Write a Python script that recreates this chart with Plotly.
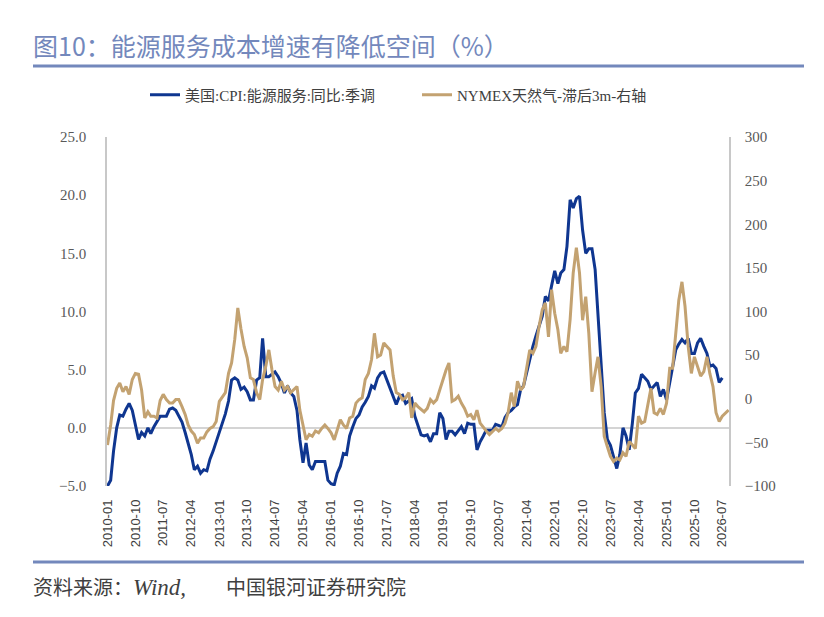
import pandas as pd
import plotly.graph_objects as go

# ---------------- data ----------------
start_month = "2010-01-01"

cpi_energy_services = [
    -5.0, -4.5, -2.0, 0.0, 1.1, 1.0, 1.6, 2.1, 1.5, 0.4,
    -1.0, -0.4, -0.7, 0.0, -0.5, 0.1, 0.6, 1.0, 1.0, 1.0,
    1.6, 1.7, 1.5, 1.0, 0.5, -0.4, -1.3, -2.3, -3.6, -3.3,
    -3.9, -3.6, -3.7, -2.7, -2.0, -1.2, -0.5, 0.5, 1.2, 2.3,
    4.1, 4.3, 4.1, 3.3, 3.5, 3.1, 2.4, 2.4, 4.1, 4.3,
    7.7, 4.4, 4.4, 4.6, 4.8, 4.4, 3.8, 3.0, 3.6, 3.0,
    2.7, 1.5, -1.0, -3.0, -1.3, -3.2, -3.6, -2.9, -2.9, -2.9,
    -2.9, -4.5, -4.8, -4.9, -3.9, -3.3, -2.2, -2.3, -0.7, 0.1,
    0.8, 1.1, 1.8, 2.2, 2.7, 3.6, 3.4, 4.3, 4.7, 4.8,
    4.1, 3.4, 2.6, 2.0, 2.7, 2.8, 2.1, 2.3, 2.5, 1.0,
    0.1, -0.6, -0.7, -0.6, -1.2, -0.5, -0.5, 1.3, 0.8, -1.0,
    -0.3, -0.3, -0.6, -0.2, 0.1, -0.5, 0.4, 0.3, 0.3, -1.9,
    -1.2, -0.7, -0.2, -0.2, -0.2, 0.3, 0.2, 0.1, 0.9, 1.3,
    1.5, 1.8, 2.0, 3.3, 3.6, 4.8, 6.0, 7.0, 7.9, 8.7,
    9.6, 11.3, 10.9, 12.2, 13.5, 12.4, 13.3, 13.6, 15.6, 19.6,
    18.9, 19.7, 19.9, 17.0, 15.0, 15.4, 15.4, 13.6, 9.9, 5.8,
    1.3, -1.0, -1.5, -2.5, -3.5, -2.3, 0.0, -0.7, -1.9, 0.4,
    3.0, 3.4, 4.6, 4.3, 4.0, 3.3, 3.6, 3.9, 2.7, 3.3,
    2.4, 3.9, 5.3, 6.7, 7.2, 7.6, 7.3, 7.7, 6.4, 6.4,
    7.3, 7.7, 7.0, 6.4, 5.3, 5.4, 5.1, 3.9, 4.3,
]

nymex_gas_lag3m = [
    -53, -30, -2, 12, 18, 8, 14, 5, 22, 29,
    28, 10, -22, -15, -20, -20, -22, -2, 5, -1,
    -5, -5, -1, -1, -9, -18, -30, -37, -41, -51,
    -45, -45, -38, -34, -32, -26, -3, 3, 7, 29,
    41, 68, 104, 80, 60, 47, 24, 22, 7, -1,
    22, 37, 56, 33, 14, 10, 20, 10, 14, 7,
    10, 14, -13, -32, -47, -41, -43, -37, -39, -34,
    -30, -34, -39, -47, -37, -24, -30, -34, -22, -20,
    -5, -1, 1, 22, 29, 45, 75, 48, 50, 64,
    60, 56, 26, 7, 5, -1, 1, 7, -22, -5,
    -9, -12, -15, -11, -1, -5, -1, 10, 22, 33,
    41, -3, -1, 3, -5, -11, -20, -18, -24, -13,
    -28, -33, -37, -41, -37, -34, -37, -34, -28, -16,
    7, -9, 20, 10, 14, 37, 56, 52, 60, 83,
    102, 110, 71, 125, 98, 79, 52, 60, 54, 91,
    144, 173, 144, 90, 117, 75, 8, 30, 48, 14,
    -43, -55, -66, -72, -68, -70, -62, -66, -49, -53,
    -57, -20, -28, -26, -9, 12, -16, -18, -11, -18,
    -5, 35, 35, 79, 113, 134, 106, 60, 29, 48,
    37, 26, 31, 48, 29, 14, -16, -26, -20, -16,
    -13,
]

tick_labels = [
    "2010-01", "2010-10", "2011-07", "2012-04", "2013-01", "2013-10",
    "2014-07", "2015-04", "2016-01", "2016-10", "2017-07", "2018-04",
    "2019-01", "2019-10", "2020-07", "2021-04", "2022-01", "2022-10",
    "2023-07", "2024-04", "2025-01", "2025-10", "2026-07",
]

series_names = ["美国:CPI:能源服务:同比:季调", "NYMEX天然气-滞后3m-右轴"]
title_text = "图10：能源服务成本增速有降低空间（%）"
source_text = ("资料来源：<i><span style='font-size:23px'>Wind,</span></i>"
               "\u3000\u3000中国银河证券研究院")

# ---------------- styling ----------------
BLUE = "#0F3690"
GOLD = "#C3A271"
TITLE_BLUE = "#7388BC"
AXIS_GRAY = "#C8C8C8"
TEXT_GRAY = "#595959"
SERIF = "Liberation Serif, Noto Sans CJK SC, serif"
SANS = "Liberation Sans, Arial, sans-serif"
CJK = "Noto Sans CJK SC, sans-serif"

x_cpi = pd.date_range(start_month, periods=len(cpi_energy_services), freq="MS")
x_gas = pd.date_range(start_month, periods=len(nymex_gas_lag3m), freq="MS")

fig = go.Figure()
fig.add_trace(go.Scatter(
    x=x_cpi, y=cpi_energy_services, name=series_names[0], mode="lines",
    line=dict(color=BLUE, width=3), yaxis="y",
))
fig.add_trace(go.Scatter(
    x=x_gas, y=nymex_gas_lag3m, name=series_names[1], mode="lines",
    line=dict(color=GOLD, width=3), yaxis="y2",
))

W, H = 824, 617
L, R, T, B = 107, 729, 137, 486  # plot area pixel box
pw, ph = R - L, B - T


def px_x(x):
    return (x - L) / pw


def px_y(y):
    return (B - y) / ph


fig.update_layout(
    width=W, height=H,
    margin=dict(l=L, r=W - R, t=T, b=H - B, pad=0),
    paper_bgcolor="white", plot_bgcolor="white",
    showlegend=True,
    legend=dict(
        orientation="h", x=px_x(145), xanchor="left", y=px_y(95), yanchor="middle",
        font=dict(family=SERIF, size=15, color="#404040"),
        itemwidth=30, tracegroupgap=0, bgcolor="rgba(0,0,0,0)",
        entrywidth=227, entrywidthmode="pixels",
    ),
    xaxis=dict(
        type="date",
        range=["2009-12-27", "2026-09-05"],
        tickmode="array",
        tickvals=[pd.Timestamp(t + "-01") for t in tick_labels],
        ticktext=tick_labels,
        tickangle=-90,
        tickfont=dict(family=SANS, size=13, color="#404040"),
        showgrid=False, zeroline=False, showline=False,
        ticks="", ticklabelstandoff=10,
    ),
    yaxis=dict(
        range=[-5, 25], dtick=5, tickformat=".1f",
        tickfont=dict(family=SERIF, size=15, color=TEXT_GRAY),
        showgrid=False, zeroline=True, zerolinecolor="#D4D4D4", zerolinewidth=1.5,
        showline=True, linecolor=AXIS_GRAY, linewidth=1.5,
        ticks="", ticklabelstandoff=16,
    ),
    yaxis2=dict(
        range=[-100, 300], dtick=50, tickformat="d",
        overlaying="y", side="right",
        tickfont=dict(family=SERIF, size=15, color=TEXT_GRAY),
        showgrid=False, zeroline=False,
        showline=True, linecolor=AXIS_GRAY, linewidth=1.5,
        ticks="", ticklabelstandoff=11,
    ),
    shapes=[
        dict(type="line", xref="paper", yref="paper",
             x0=px_x(33), x1=px_x(804), y0=px_y(66), y1=px_y(66),
             line=dict(color=TITLE_BLUE, width=3)),
        dict(type="line", xref="paper", yref="paper",
             x0=px_x(33), x1=px_x(804), y0=px_y(562), y1=px_y(562),
             line=dict(color=TITLE_BLUE, width=3)),
    ],
    annotations=[
        dict(text=title_text, xref="paper", yref="paper",
             x=px_x(31), y=px_y(45), xanchor="left", yanchor="middle",
             showarrow=False, font=dict(family=CJK, size=25, color=TITLE_BLUE)),
        dict(text=source_text, xref="paper", yref="paper",
             x=px_x(31), y=px_y(587), xanchor="left", yanchor="middle",
             showarrow=False, font=dict(family=SERIF, size=20, color="#404040")),
    ],
)

fig.write_html("out.html", config={"displayModeBar": False})

# remove the browser's default page margin so the figure sits at (0, 0)
with open("out.html", "r", encoding="utf-8") as f:
    html = f.read()
html = html.replace("<body>", '<body style="margin:0;padding:0;">', 1)
with open("out.html", "w", encoding="utf-8") as f:
    f.write(html)
